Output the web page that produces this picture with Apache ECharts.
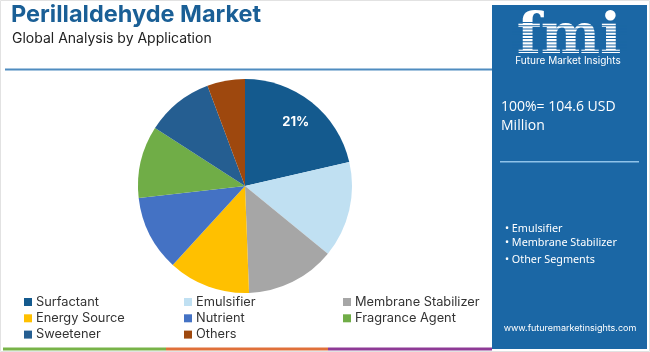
<!DOCTYPE html>
<html>
<head>
<meta charset="utf-8">
<script src="https://cdn.jsdelivr.net/npm/echarts@6/dist/echarts.min.js"></script>
<style>
html,body{margin:0;padding:0;background:#fff;}
#chart{width:650px;height:352px;}
</style>
</head>
<body>
<div id="chart"></div>
<script>
const categories = ['Surfactant', 'Emulsifier', 'Membrane Stabilizer', 'Energy Source', 'Nutrient', 'Fragrance Agent', 'Sweetener', 'Others'];
const shares = [21.4, 14.5, 13.5, 12.4, 11.4, 10.9, 10.2, 5.7];
const colors = ['#145a8e', '#c0e0f2', '#a6a6a6', '#ffc000', '#4472c4', '#70ad47', '#255e91', '#9e480e'];
const legendCol1 = ['Surfactant', 'Energy Source', 'Sweetener'];
const legendCol2 = ['Emulsifier', 'Nutrient', 'Others'];
const legendCol3 = ['Membrane Stabilizer', 'Fragrance Agent'];
const titleText = 'Perillaldehyde Market';
const subtitleText = 'Global Analysis by Application';
const totalText = ['100%= 104.6 USD', 'Million'];
const bulletItems = ['Emulsifier', 'Membrane Stabilizer', 'Other Segments'];
const siteText = 'www.futuremarketinsights.com';

const chart = echarts.init(document.getElementById('chart'));
const maxShare = Math.max(...shares);
const pieData = categories.map((c, i) => ({ name: c, value: shares[i], itemStyle: { color: colors[i] } }));
const labelData = categories.map((c, i) => ({
  name: c, value: shares[i],
  label: { show: shares[i] === maxShare }
}));

const legendBase = {
  orient: 'vertical', top: 295.5, padding: 0, itemWidth: 8, itemHeight: 8, itemGap: 3.3, icon: 'rect',
  selectedMode: false,
  textStyle: { fontFamily: 'Inter', fontSize: 12.8, color: '#333', lineHeight: 13, padding: [0, 0, 0, -1] }
};

const panelColor = '#1b67a5';
const stripes = [];
for (let y = 22; y <= 56; y += 3.2) {
  stripes.push({ type: 'rect', shape: { x: 512, y: y, width: 115, height: 1.1 }, style: { fill: panelColor }, z: 12 });
}

chart.setOption({
  animation: false,
  color: colors,
  legend: [
    Object.assign({}, legendBase, { left: 24, data: legendCol1 }),
    Object.assign({}, legendBase, { left: 184, data: legendCol2 }),
    Object.assign({}, legendBase, { left: 343, data: legendCol3 })
  ],
  series: [
    {
      type: 'pie', center: [245, 186], radius: [0, 107], startAngle: 90, clockwise: true,
      label: { show: false }, labelLine: { show: false }, silent: true,
      itemStyle: { borderWidth: 0 },
      data: pieData
    },
    {
      type: 'pie', center: [245, 186], radius: [50, 107], startAngle: 90, clockwise: true,
      silent: true, legendHoverLink: false,
      itemStyle: { color: 'rgba(0,0,0,0)' },
      label: {
        position: 'inside', color: '#fff', fontFamily: 'Inter', fontWeight: 'bold', fontSize: 13,
        formatter: p => Math.round(p.percent) + '%'
      },
      labelLine: { show: false },
      data: labelData, z: 5
    }
  ],
  graphic: [
    { type: 'rect', shape: { x: 0.5, y: 0.5, width: 649, height: 351 }, style: { fill: 'none', stroke: '#e2e2e2', lineWidth: 1 } },
    { type: 'text', left: 11, top: 3, style: { text: titleText, fontFamily: 'Inter', fontWeight: 'bold', fontSize: 23.5, fill: '#1a5f96' } },
    { type: 'text', left: 12, top: 31.5, style: { text: subtitleText, fontFamily: 'Inter', fontSize: 14, fill: '#222' } },
    { type: 'rect', shape: { x: 5, y: 68.5, width: 487, height: 2 }, style: { fill: '#4f8cc0' } },
    { type: 'rect', shape: { x: 3, y: 347.5, width: 163, height: 3 }, style: { fill: '#78b348' } },
    { type: 'rect', shape: { x: 166, y: 347.5, width: 162, height: 3 }, style: { fill: '#e0703a' } },
    { type: 'rect', shape: { x: 328, y: 347.5, width: 164, height: 3 }, style: { fill: '#8e3a96' } },
    { type: 'rect', shape: { x: 492, y: 5, width: 155, height: 344 }, style: { fill: panelColor }, z: 10 },
    { type: 'text', x: 569, y: 66, style: { text: 'fmi', fontFamily: 'DejaVu Serif', fontWeight: 'bold', fontSize: 56, fill: '#fff', align: 'center', verticalAlign: 'bottom' }, z: 11 },
    ...stripes,
    { type: 'text', x: 568, y: 61, style: { text: 'Future Market Insights', fontFamily: 'Inter', fontSize: 10, fill: '#fff', align: 'center', verticalAlign: 'middle' }, z: 12 },
    { type: 'text', x: 501, y: 107, style: { text: totalText[0], fontFamily: 'Open Sans', fontSize: 14, fill: '#fff', verticalAlign: 'middle' }, z: 12 },
    { type: 'text', x: 501, y: 126, style: { text: totalText[1], fontFamily: 'Open Sans', fontSize: 14, fill: '#fff', verticalAlign: 'middle' }, z: 12 },
    { type: 'rect', shape: { x: 500, y: 161, width: 139, height: 1.5 }, style: { fill: '#8fc3ea' }, z: 12 },
    { type: 'text', x: 505, y: 229, style: { text: '• ' + bulletItems[0], fontFamily: 'Noto Sans', fontSize: 10.8, fill: '#fff', verticalAlign: 'middle' }, z: 12 },
    { type: 'text', x: 505, y: 243, style: { text: '• ' + bulletItems[1], fontFamily: 'Noto Sans', fontSize: 10.8, fill: '#fff', verticalAlign: 'middle' }, z: 12 },
    { type: 'text', x: 505, y: 259.5, style: { text: '• ' + bulletItems[2], fontFamily: 'Noto Sans', fontSize: 10.8, fill: '#fff', verticalAlign: 'middle' }, z: 12 },
    { type: 'text', x: 570, y: 328, style: { text: siteText, fontFamily: 'Inter', fontSize: 9, fill: '#fff', align: 'center', verticalAlign: 'middle' }, z: 12 }
  ]
});
</script>
</body>
</html>
